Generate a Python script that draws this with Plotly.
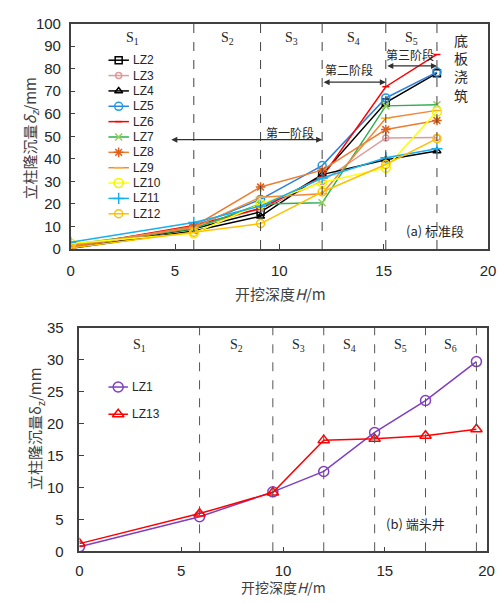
import plotly.graph_objects as go

# ---------------- data ----------------
H_a = [0, 5.9, 9.1, 12.05, 15.1, 17.55]
LZ2 = [0.5, 9.0, 16.5, 33.0, 65.0, 78.0]
LZ3 = [0.5, 9.5, 18.0, 30.0, 49.3, 49.5]
LZ4 = [0.3, 8.0, 14.5, 33.0, 39.6, 43.5]
LZ5 = [1.0, 10.0, 22.0, 37.0, 67.0, 78.5]
LZ6 = [1.0, 10.5, 18.0, 32.0, 72.0, 86.3]
LZ7 = [2.0, 9.0, 20.0, 20.5, 63.5, 64.0]
LZ8 = [1.0, 10.0, 27.5, 35.0, 53.0, 57.0]
LZ9 = [1.5, 9.5, 23.0, 24.5, 58.0, 61.5]
LZ10 = [2.5, 7.0, 20.0, 29.5, 36.0, 61.0]
LZ11 = [3.0, 11.8, 19.0, 31.5, 40.5, 44.5]
LZ12 = [0.5, 7.5, 11.3, 25.3, 37.5, 49.0]
series_a_names = ["LZ2", "LZ3", "LZ4", "LZ5", "LZ6", "LZ7", "LZ8", "LZ9", "LZ10", "LZ11", "LZ12"]
series_a = [LZ2, LZ3, LZ4, LZ5, LZ6, LZ7, LZ8, LZ9, LZ10, LZ11, LZ12]
stages_a = ["1", "2", "3", "4", "5"]

H_b = [0, 5.9, 9.5, 12.0, 14.5, 17.0, 19.5]
LZ1 = [0.7, 5.4, 9.3, 12.5, 18.6, 23.6, 29.7]
LZ13 = [1.2, 5.9, 9.2, 17.4, 17.6, 18.1, 19.1]
series_b_names = ["LZ1", "LZ13"]
series_b = [LZ1, LZ13]
stages_b = ["1", "2", "3", "4", "5", "6"]

# ---------------- styles ----------------
sty_a = {
    "LZ2": dict(lc="#000000", mc="#000000", sym="square-open", ms=7),
    "LZ3": dict(lc="#E09A9A", mc="#E09A9A", sym="circle-open", ms=6),
    "LZ4": dict(lc="#000000", mc="#000000", sym="triangle-up-open", ms=7),
    "LZ5": dict(lc="#2F80D8", mc="#1E9BE8", sym="circle-open", ms=8),
    "LZ6": dict(lc="#FF0000", mc="#FF0000", sym="line-ew-open", ms=5),
    "LZ7": dict(lc="#2DB050", mc="#92D050", sym="x-thin-open", ms=7),
    "LZ8": dict(lc="#ED7D31", mc="#E0601A", sym="asterisk-open", ms=8),
    "LZ9": dict(lc="#EE8A3A", mc="#FFB020", sym="line-ew-open", ms=7),
    "LZ10": dict(lc="#FFFF00", mc="#F2F200", sym="circle-open", ms=9),
    "LZ11": dict(lc="#1AAFEF", mc="#1AAFEF", sym="cross-thin-open", ms=8),
    "LZ12": dict(lc="#FFC000", mc="#FFC000", sym="circle-open", ms=8),
}
sty_b = {
    "LZ1": dict(lc="#7F3FBF", mc="#7F3FBF", sym="circle-open", ms=10),
    "LZ13": dict(lc="#FF0000", mc="#FF0000", sym="triangle-up-open", ms=10),
}

W, Hh = 499, 603
AX = "#404040"
TICKFONT = dict(family="Liberation Sans, Arial, sans-serif", size=15, color="#262626")
CJK = "Noto Sans CJK SC, sans-serif"

fig = go.Figure()

def add_series(names, vals, xs, sty, xa, ya):
    for n, v in zip(names, vals):
        s = sty[n]
        fig.add_trace(go.Scatter(
            x=xs, y=v, mode="lines+markers", name=n, showlegend=False,
            xaxis=xa, yaxis=ya,
            line=dict(color=s["lc"], width=1.5),
            marker=dict(symbol=s["sym"], size=s["ms"], color=s["mc"],
                        line=dict(color=s["mc"], width=1.5)),
        ))

add_series(series_a_names, series_a, H_a, sty_a, "x", "y")
add_series(series_b_names, series_b, H_b, sty_b, "x2", "y2")

# ---------------- custom legends on pixel overlay axis ----------------
def add_legend(names, sty, y0, dy, x0=107, x1=128, tx=130):
    for i, n in enumerate(names):
        s = sty[n]
        yy = y0 + i * dy
        fig.add_trace(go.Scatter(x=[x0, x1], y=[yy, yy], mode="lines", showlegend=False,
                                 xaxis="x3", yaxis="y3", hoverinfo="skip",
                                 line=dict(color=s["lc"], width=1.5)))
        fig.add_trace(go.Scatter(x=[(x0 + x1) / 2], y=[yy], mode="markers", showlegend=False,
                                 xaxis="x3", yaxis="y3", hoverinfo="skip",
                                 marker=dict(symbol=s["sym"], size=s["ms"], color=s["mc"],
                                             line=dict(color=s["mc"], width=1.5))))
        fig.add_annotation(x=tx, y=yy, xref="x3", yref="y3", text=n, showarrow=False,
                           xanchor="left", yanchor="middle",
                           font=dict(family="Liberation Sans, Arial, sans-serif", size=12, color="#262626"))

add_legend(series_a_names, sty_a, 52.7, 15.8)
add_legend(series_b_names, sty_b, 389, 28, x0=107, x1=127, tx=129)

# ---------------- stage boundary lines ----------------
for xv in H_a[1:]:
    fig.add_shape(type="line", xref="x", yref="y", x0=xv, x1=xv, y0=0, y1=100,
                  line=dict(color=AX, width=1, dash="dash"))
for xv in H_b[1:]:
    fig.add_shape(type="line", xref="x2", yref="y2", x0=xv, x1=xv, y0=0, y1=35,
                  line=dict(color="#555555", width=1, dash="dash"))

# stage labels
SF = dict(family="Liberation Serif, Times New Roman, serif", size=14, color="#262626")
for i, s in enumerate(stages_a):
    xm = (H_a[i] + H_a[i + 1]) / 2
    fig.add_annotation(x=xm, y=93.4, xref="x", yref="y", text=f"S<sub>{s}</sub>",
                       showarrow=False, font=SF, xanchor="center", yanchor="middle")
for i, s in enumerate(stages_b):
    xm = (H_b[i] + H_b[i + 1]) / 2
    fig.add_annotation(x=xm, y=32.2, xref="x2", yref="y2", text=f"S<sub>{s}</sub>",
                       showarrow=False, font=SF, xanchor="center", yanchor="middle")

# phase arrows (top)
def darrow(xa, xb, yv):
    fig.add_annotation(x=xb, y=yv, ax=xa, ay=yv, xref="x", yref="y", axref="x", ayref="y",
                       text="", showarrow=True, arrowhead=2, startarrowhead=2,
                       arrowside="end+start", arrowsize=1, startarrowsize=1,
                       arrowwidth=1.2, arrowcolor="#303030", standoff=0, startstandoff=0)

darrow(4.75, H_a[3], 48.5)
darrow(H_a[3], H_a[4], 74.0)
darrow(H_a[4], H_a[5], 81.2)
PF = dict(family=CJK, size=12, color="#262626")
def note(x, y, text, font, xref="x", yref="y", **kw):
    fig.add_annotation(x=x, y=y, xref=xref, yref=yref, text=text, showarrow=False, font=font,
                       xanchor="center", yanchor="middle", **kw)

note(10.5, 51.8, "第一阶段", PF)
note(13.36, 79.6, "第二阶段", PF)
note(16.24, 86.3, "第三阶段", PF)
note(18.7, 80.5, "底<br>板<br>浇<br>筑", dict(family=CJK, size=14, color="#262626"))
note(17.46, 8.2, "(a) 标准段", dict(family=CJK, size=13, color="#262626"))
note(16.53, 4.3, "(b) 端头井", dict(family=CJK, size=13, color="#262626"), xref="x2", yref="y2")

# axis titles
TF = dict(family=CJK, size=15, color="#404040")
note(27 / W, 1 - 133 / Hh, "立柱隆沉量<i>δ</i><sub><i>z</i></sub>/mm", TF,
     xref="paper", yref="paper", textangle=-90)
note(33 / W, 1 - 432 / Hh, "立柱隆沉量δ<sub>z</sub>/mm", TF,
     xref="paper", yref="paper", textangle=-90)
note(283 / W, 1 - 292.5 / Hh, "开挖深度<i>H</i>/m", TF, xref="paper", yref="paper")
note(286 / W, 1 - 595 / Hh, "开挖深度<i>H</i>/m", dict(family=CJK, size=14, color="#404040"),
     xref="paper", yref="paper")

axcommon = dict(showgrid=False, zeroline=False, showline=True, mirror=True, linecolor=AX,
                linewidth=1.5, ticks="inside", ticklen=5, tickwidth=1.2, tickcolor=AX,
                tickfont=TICKFONT, ticklabeloverflow="allow")

fig.update_layout(
    width=W, height=Hh, autosize=False,
    margin=dict(l=0, r=0, t=0, b=0),
    paper_bgcolor="white", plot_bgcolor="rgba(0,0,0,0)",
    showlegend=False,
    xaxis=dict(domain=[68.3 / W, 496 / W], range=[0, 20], dtick=5, anchor="y",
               ticklabelstandoff=7, **axcommon),
    yaxis=dict(domain=[1 - 247 / Hh, 1 - 15 / Hh], range=[0, 100], dtick=10, anchor="x",
               ticklabelstandoff=5, **axcommon),
    xaxis2=dict(domain=[77.3 / W, 494.5 / W], range=[0, 20], dtick=5, anchor="y2",
                ticklabelstandoff=5, **axcommon),
    yaxis2=dict(domain=[1 - 558 / Hh, 1 - 328 / Hh], range=[0, 35], dtick=5, anchor="x2",
                ticklabelstandoff=11, **axcommon),
    xaxis3=dict(domain=[0, 1], range=[0, W], visible=False, anchor="y3", fixedrange=True),
    yaxis3=dict(domain=[0, 1], range=[Hh, 0], visible=False, anchor="x3", fixedrange=True),
)

fig.write_html("out.html")
